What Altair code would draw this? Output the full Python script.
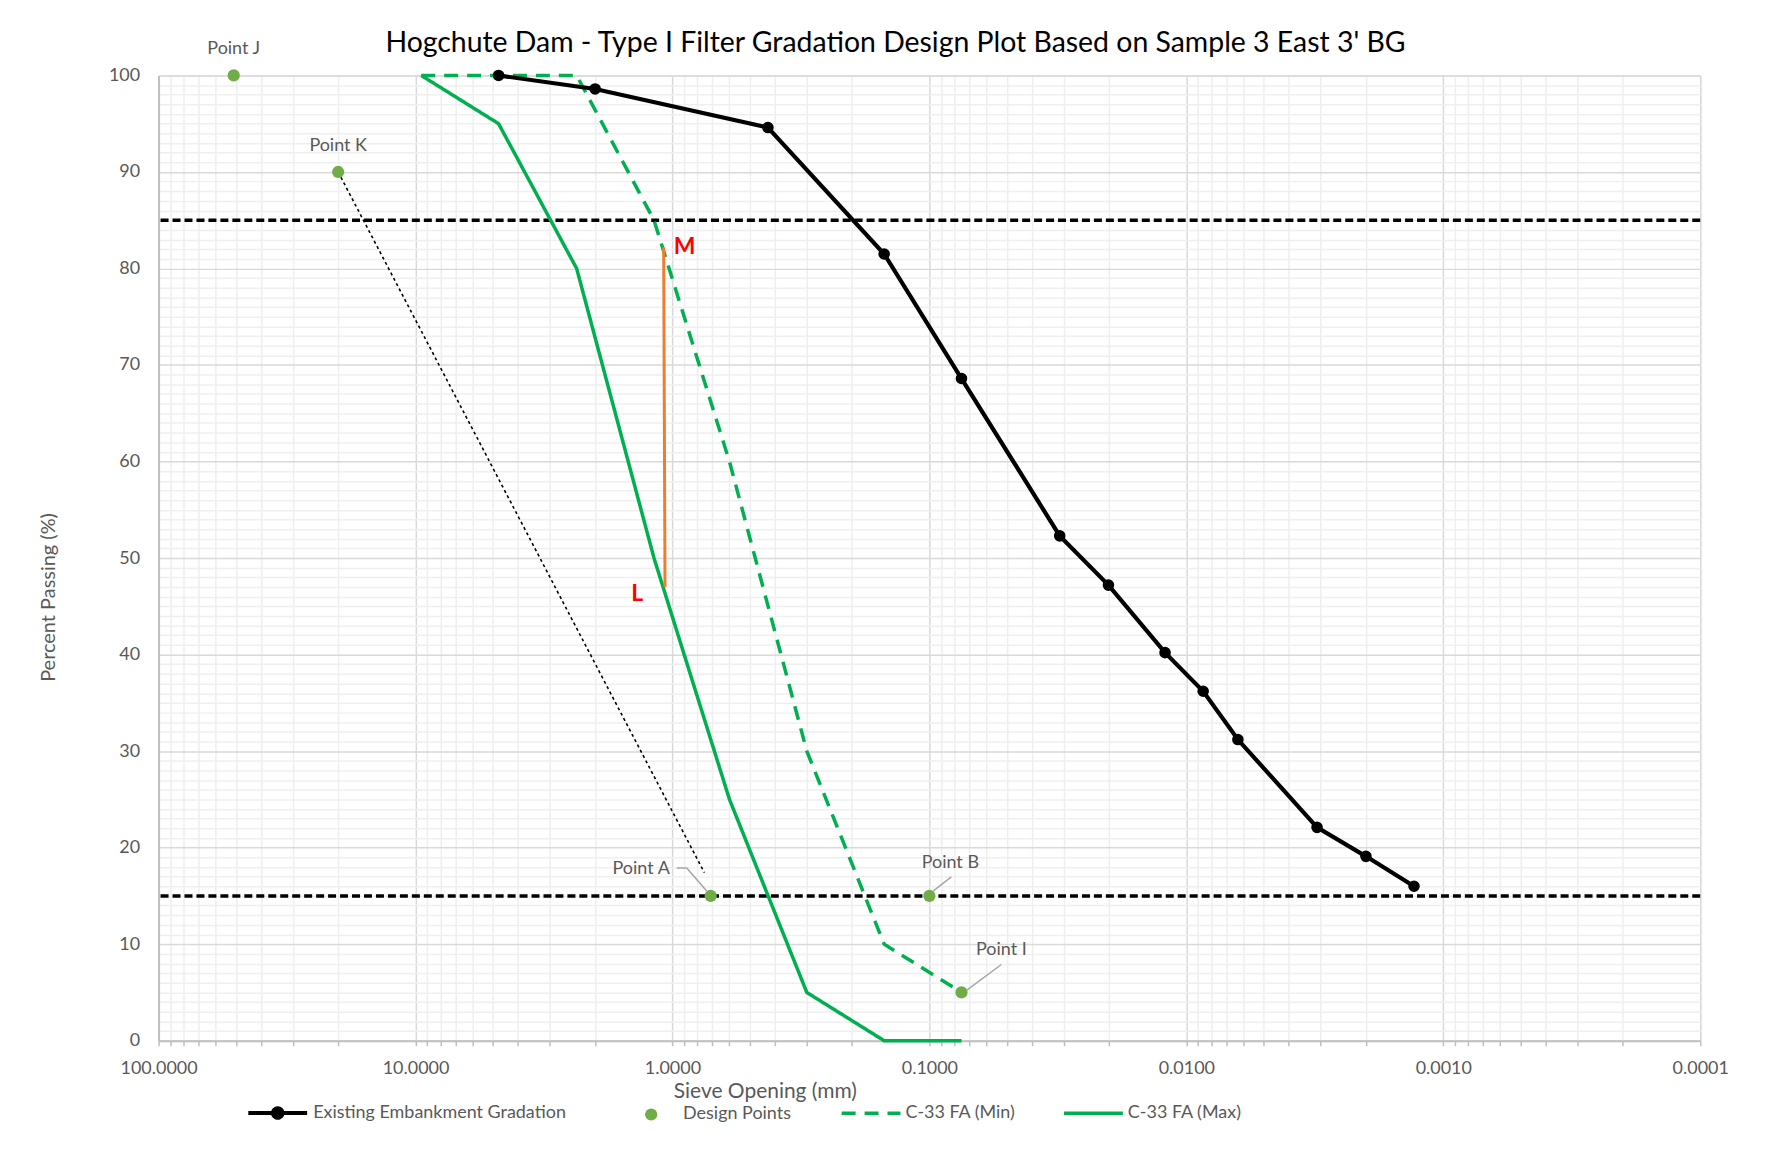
import altair as alt
import pandas as pd

# ---------------- data ----------------
emb_name = "Existing Embankment Gradation"
pts_name = "Design Points"
c33_names = ["C-33 FA (Min)", "C-33 FA (Max)"]

emb_size = [4.75, 2.0, 0.425, 0.15, 0.075, 0.0311, 0.0201, 0.0121, 0.0086, 0.0063, 0.0031, 0.0020, 0.0013]
emb_pass = [100, 98.6, 94.6, 81.5, 68.6, 52.3, 47.2, 40.2, 36.2, 31.2, 22.1, 19.1, 16.0]

c33_size = [9.5, 4.75, 2.36, 1.18, 0.6, 0.3, 0.15, 0.075]
c33_min = [100, 100, 100, 85, 60, 30, 10, 5]
c33_max = [100, 95, 80, 50, 25, 5, 0, 0]

pt_names = ["Point J", "Point K", "Point A", "Point B", "Point I"]
pt_size = [51, 20, 0.71, 0.1, 0.075]
pt_pass = [100, 90, 15, 15, 5]

kline_size = [20, 0.751]
kline_pass = [90, 17.4]

lm_names = ["L", "M"]
lm_size = [1.069, 1.082]
lm_pass = [47.0, 82.2]

criteria_pass = [85, 15]

major_x = [100, 10, 1, 0.1, 0.01, 0.001, 0.0001]
minor_mult = [2, 3, 4, 5, 6, 7, 8, 9]
x_tick_values = major_x + [m * d for d in major_x[1:] for m in minor_mult]
y_tick_values = list(range(0, 101))

title_text = "Hogchute Dam - Type I Filter Gradation Design Plot Based on Sample 3 East 3' BG"

# ---------------- styles ----------------
FONT = "Lato"
GRAY = "#595959"
BLACK = "#000000"
GREEN = "#00b050"
PTGREEN = "#70ad47"

is_major_x = "abs(log(datum.value)/LN10 - round(log(datum.value)/LN10)) < 0.001"
is_major_y = "datum.value % 10 === 0"

x_axis = alt.Axis(
    values=x_tick_values,
    labelExpr=f"({is_major_x}) ? format(datum.value, '.4f') : ''",
    grid=True,
    gridColor={"condition": {"test": is_major_x, "value": "#d9d9d9"}, "value": "#efefef"},
    gridWidth=1.5,
    ticks=True, tickSize=5, tickColor="#bfbfbf", tickWidth=1.5,
    domainColor="#bfbfbf", domainWidth=2,
    labelFont=FONT, labelFontSize=18, labelColor=GRAY, labelPadding=14,
    labelOverlap=False, labelFlush=False,
    title="Sieve Opening (mm)", titleFont=FONT, titleFontSize=21, titleColor=GRAY,
    titleFontWeight="normal", titleX=608, titleY=51, titleBaseline="middle",
)
y_axis = alt.Axis(
    values=y_tick_values,
    labelExpr=f"({is_major_y}) ? format(datum.value, 'd') : ''",
    grid=True,
    gridColor={"condition": {"test": is_major_y, "value": "#d9d9d9"}, "value": "#efefef"},
    gridWidth=1.5,
    ticks=False,
    domainColor="#bfbfbf", domainWidth=2,
    labelFont=FONT, labelFontSize=18, labelColor=GRAY, labelPadding=19,
    labelOverlap=False, labelFlush=False,
    title="Percent Passing (%)", titleFont=FONT, titleFontSize=20, titleColor=GRAY,
    titleFontWeight="normal", titleX=-110, titleY=523, titleBaseline="middle",
)

xscale = alt.Scale(type="log", domain=[0.0001, 100], reverse=True)
yscale = alt.Scale(domain=[0, 100], nice=False, zero=False)
X = alt.X("x:Q", scale=xscale, axis=x_axis)
Y = alt.Y("y:Q", scale=yscale, axis=y_axis)

LEG = dict(title=None, orient="none", direction="horizontal", labelLimit=400,
           labelFont=FONT, labelFontSize=18, labelColor=GRAY)

# legend 1: black line with a circle marker (filled path)
line_dot_path = ("M-1,-0.07L1,-0.07L1,0.07L-1,0.07Z "
                 "M-0.23,0A0.23,0.23 0 1,1 0.23,0A0.23,0.23 0 1,1 -0.23,0Z")
COLOR_EMB = alt.Color("series:N", scale=alt.Scale(domain=[emb_name], range=[BLACK]),
                      legend=alt.Legend(legendX=90, legendY=1011, symbolType=line_dot_path,
                                        symbolSize=3481, symbolStrokeWidth=0, labelOffset=6, **LEG))
# legend 2: design points
SHAPE_PTS = alt.Shape("series:N", scale=alt.Scale(domain=[pts_name], range=["circle"]),
                      legend=alt.Legend(legendX=485, legendY=1033, symbolSize=150,
                                        symbolFillColor=PTGREEN, symbolStrokeWidth=0,
                                        labelOffset=23, **LEG))
# legend 3: C-33 gradation bands
DASH_C33 = alt.StrokeDash("series:N", scale=alt.Scale(domain=c33_names, range=[[14, 9], [1, 0]]),
                          legend=alt.Legend(legendX=683, legendY=1009, symbolType="stroke",
                                            symbolSize=3481, symbolStrokeWidth=3.5,
                                            symbolStrokeColor=GREEN, labelOffset=3,
                                            columnPadding=41, **LEG))

# ---------------- frames ----------------
df_emb = pd.DataFrame({"x": emb_size, "y": emb_pass, "series": emb_name})
df_pts = pd.DataFrame({"x": pt_size, "y": pt_pass, "name": pt_names, "series": pts_name})
df_min = pd.DataFrame({"x": c33_size, "y": c33_min, "series": c33_names[0]})
df_max = pd.DataFrame({"x": c33_size, "y": c33_max, "series": c33_names[1]})
df_k = pd.DataFrame({"x": kline_size, "y": kline_pass})
df_lm = pd.DataFrame({"x": lm_size, "y": lm_pass, "name": lm_names})
df_crit = pd.DataFrame({"y": criteria_pass})

layers = []
layers.append(alt.Chart(df_k).mark_line(color=BLACK, strokeWidth=1.6, strokeDash=[3, 3]).encode(x=X, y=Y))
layers.append(alt.Chart(df_crit).mark_rule(color=BLACK, strokeWidth=3.5, strokeDash=[8, 4]).encode(y=Y))
layers.append(alt.Chart(df_max).mark_line(strokeWidth=3.5, color=GREEN).encode(x=X, y=Y, strokeDash=DASH_C33))
layers.append(alt.Chart(df_min).mark_line(strokeWidth=3.5, color=GREEN).encode(x=X, y=Y, strokeDash=DASH_C33))
layers.append(alt.Chart(df_lm).mark_line(color="#ed7d31", strokeWidth=3).encode(x=X, y=Y))

lm_offsets = {"L": (-28, 7), "M": (21, 0)}
for nm, (dx, dy) in lm_offsets.items():
    layers.append(
        alt.Chart(df_lm).transform_filter(f"datum.name === '{nm}'")
        .mark_text(font=FONT, fontSize=23, fontWeight="bold", color="#ff0000", dx=dx, dy=dy,
                   align="center", baseline="middle")
        .encode(x=X, y=Y, text="name:N")
    )

layers.append(alt.Chart(df_emb).mark_line(strokeWidth=4.2, color=BLACK).encode(x=X, y=Y))
layers.append(alt.Chart(df_emb).mark_point(filled=True, size=135, opacity=1).encode(x=X, y=Y, color=COLOR_EMB))
layers.append(alt.Chart(df_pts).mark_point(filled=True, size=150, opacity=1, color=PTGREEN)
              .encode(x=X, y=Y, shape=SHAPE_PTS))

# leader lines: (point, start offset, end offset)
leaders = [
    ("Point A", (-4, -5), (-24, -28)),
    ("Point A", (-24, -28), (-34, -28)),
    ("Point B", (4, -5), (22, -19)),
    ("Point I", (5, -2), (40, -28)),
]
for nm, (x1, y1), (x2, y2) in leaders:
    layers.append(
        alt.Chart(df_pts).transform_filter(f"datum.name === '{nm}'")
        .mark_rule(color="#a6a6a6", strokeWidth=1.5, xOffset=x1, yOffset=y1, x2Offset=x2, y2Offset=y2)
        .encode(x=X, y=Y, x2="x:Q", y2="y:Q")
    )

label_offsets = {
    "Point J": (0, -26, "center"),
    "Point K": (0, -26, "center"),
    "Point A": (-41, -27, "right"),
    "Point B": (21, -33, "center"),
    "Point I": (40, -43, "center"),
}
for nm, (dx, dy, al) in label_offsets.items():
    layers.append(
        alt.Chart(df_pts).transform_filter(f"datum.name === '{nm}'")
        .mark_text(font=FONT, fontSize=18, color=GRAY, dx=dx, dy=dy, align=al, baseline="middle")
        .encode(x=X, y=Y, text="name:N")
    )

chart = alt.layer(*layers).properties(
    width=1546, height=968,
    title=alt.TitleParams(title_text, font=FONT, fontSize=28.5, color=BLACK, fontWeight="normal",
                          anchor="middle", frame="group", dx=-34, dy=33, offset=16),
    autosize=alt.AutoSizeParams(type="none"),
    padding={"left": 151, "top": 66, "right": 80, "bottom": 110},
).configure_view(stroke=None).configure(background="white")

chart.save("out.html", embed_options={"renderer": "svg", "actions": False})
